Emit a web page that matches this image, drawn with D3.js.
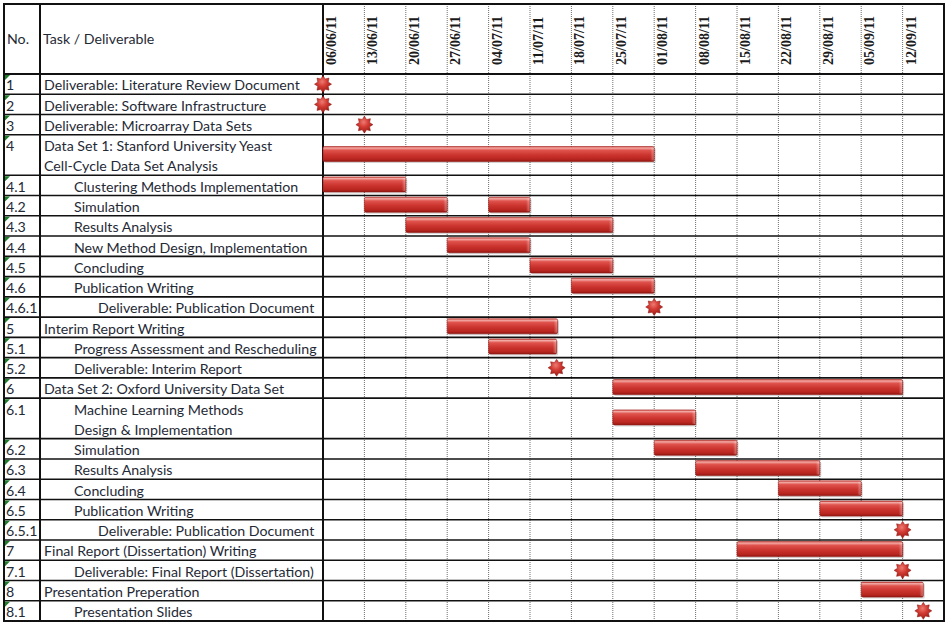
<!DOCTYPE html>
<html><head><meta charset="utf-8">
<script src="https://cdn.jsdelivr.net/npm/d3@7"></script>
<style>body{margin:0;background:#fff;} svg{display:block}</style>
</head><body><svg id="c" width="946" height="626"></svg>
<script>
// ---- data ----
const taskIds = ["1","2","3","4","4.1","4.2","4.3","4.4","4.5","4.6","4.6.1","5","5.1","5.2","6","6.1","6.2","6.3","6.4","6.5","6.5.1","7","7.1","8","8.1"];
const taskNames = [
  ["Deliverable: Literature Review Document"],
  ["Deliverable: Software Infrastructure"],
  ["Deliverable: Microarray Data Sets"],
  ["Data Set 1: Stanford University Yeast","Cell-Cycle Data Set Analysis"],
  ["Clustering Methods Implementation"],
  ["Simulation"],
  ["Results Analysis"],
  ["New Method Design, Implementation"],
  ["Concluding"],
  ["Publication Writing"],
  ["Deliverable: Publication Document"],
  ["Interim Report Writing"],
  ["Progress Assessment and Rescheduling"],
  ["Deliverable: Interim Report"],
  ["Data Set 2: Oxford University Data Set"],
  ["Machine Learning Methods","Design & Implementation"],
  ["Simulation"],
  ["Results Analysis"],
  ["Concluding"],
  ["Publication Writing"],
  ["Deliverable: Publication Document"],
  ["Final Report (Dissertation) Writing"],
  ["Deliverable: Final Report (Dissertation)"],
  ["Presentation Preperation"],
  ["Presentation Slides"]
];
const taskLevels = [0,0,0,0,1,1,1,1,1,1,2,0,1,1,0,1,1,1,1,1,2,0,1,0,1];
const weekLabels = ["06/06/11","13/06/11","20/06/11","27/06/11","04/07/11","11/07/11","18/07/11","25/07/11","01/08/11","08/08/11","15/08/11","22/08/11","29/08/11","05/09/11","12/09/11"];
const barSegments = [
  ["4","2011-06-06","2011-08-01"],
  ["4.1","2011-06-06","2011-06-20"],
  ["4.2","2011-06-13","2011-06-27"],
  ["4.2","2011-07-04","2011-07-11"],
  ["4.3","2011-06-20","2011-07-25"],
  ["4.4","2011-06-27","2011-07-11"],
  ["4.5","2011-07-11","2011-07-25"],
  ["4.6","2011-07-18","2011-08-01"],
  ["5","2011-06-27","2011-07-15 16:00"],
  ["5.1","2011-07-04","2011-07-15 12:00"],
  ["6","2011-07-25","2011-09-12"],
  ["6.1","2011-07-25","2011-08-08"],
  ["6.2","2011-08-01","2011-08-15"],
  ["6.3","2011-08-08","2011-08-29"],
  ["6.4","2011-08-22","2011-09-05"],
  ["6.5","2011-08-29","2011-09-12"],
  ["7","2011-08-15","2011-09-12"],
  ["8","2011-09-05","2011-09-15 12:00"]
];
const milestones = [
  ["1","2011-06-06"],
  ["2","2011-06-06"],
  ["3","2011-06-13"],
  ["4.6.1","2011-08-01"],
  ["5.2","2011-07-15 12:00"],
  ["6.5.1","2011-09-12"],
  ["7.1","2011-09-12"],
  ["8.1","2011-09-15 12:00"]
];

// ---- layout ----
const L = 4, R = 944, T = 4, HB = 74, B = 621;
const colNo = 40, colTask = 323;
const pDay = d3.utcParse("%Y-%m-%d"), pHour = d3.utcParse("%Y-%m-%d %H:%M"), pWeek = d3.utcParse("%d/%m/%y");
const pd = s => pHour(s) || pDay(s);
const weeks = weekLabels.map(pWeek);
const x = d3.scaleUtc().domain([weeks[0], d3.utcDay.offset(weeks[weeks.length-1], 7)]).range([colTask, R]);

const spans = taskNames.map(n => n.length);
const starts = []; let acc = 0; spans.forEach(s => { starts.push(acc); acc += s; });
const y = d3.scaleLinear().domain([0, acc]).range([HB, B]);
const rowIdx = id => taskIds.indexOf(id);

const svg = d3.select("#c");
const defs = svg.append("defs");
const g1 = defs.append("linearGradient").attr("id","bar").attr("x1",0).attr("y1",0).attr("x2",0).attr("y2",1);
[[0,"#d9524c"],[0.1,"#f2aaa5"],[0.25,"#e0534d"],[0.55,"#cc3530"],[0.85,"#b8251f"],[1,"#8f1712"]].forEach(([o,c]) => g1.append("stop").attr("offset",o).attr("stop-color",c));
const g2 = defs.append("linearGradient").attr("id","barEnd").attr("x1",0).attr("y1",0).attr("x2",1).attr("y2",0);
[[0,"#ffffff",0],[1,"#ffffff",0.35]].forEach(([o,c,a]) => g2.append("stop").attr("offset",o).attr("stop-color",c).attr("stop-opacity",a));
const g3 = defs.append("radialGradient").attr("id","star").attr("cx","45%").attr("cy","35%").attr("r","65%");
[[0,"#ee7a72"],[0.45,"#d23b33"],[1,"#9c1a14"]].forEach(([o,c]) => g3.append("stop").attr("offset",o).attr("stop-color",c));

// vertical dotted week lines
svg.append("g").selectAll("line").data(weeks.slice(1)).join("line")
  .attr("x1", d => x(d)).attr("x2", d => x(d)).attr("y1", T).attr("y2", B)
  .attr("stroke","#6f6f6f").attr("stroke-width",1).attr("stroke-dasharray","1,1");

// horizontal row lines
const rowLines = starts.slice(1).map(s => y(s));
svg.append("g").selectAll("line").data(rowLines).join("line")
  .attr("x1", L).attr("x2", R).attr("y1", d => d).attr("y2", d => d)
  .attr("stroke","#111").attr("stroke-width",1.6);

// header bottom & borders
svg.append("line").attr("x1",L).attr("x2",R).attr("y1",HB).attr("y2",HB).attr("stroke","#111").attr("stroke-width",2);
svg.append("rect").attr("x",L).attr("y",T).attr("width",R-L).attr("height",B-T).attr("fill","none").attr("stroke","#111").attr("stroke-width",2);
[colNo, colTask].forEach(cx => svg.append("line").attr("x1",cx).attr("x2",cx).attr("y1",T).attr("y2",B).attr("stroke","#111").attr("stroke-width",2));

// green indicator triangles
svg.append("g").selectAll("path").data(starts).join("path")
  .attr("d", s => `M${L+1},${y(s)+1}L${L+6},${y(s)+1}L${L+1},${y(s)+6}Z`).attr("fill","#1e7d2a");

// header text
const txt = "#1f2a36";
const ff = "Lato, 'Open Sans', sans-serif";
svg.append("text").attr("x",7).attr("y",44).attr("font-family",ff).attr("font-size",14.2).attr("fill",txt).text("No.");
svg.append("text").attr("x",43).attr("y",44).attr("font-family",ff).attr("font-size",14.2).attr("fill",txt).text("Task / Deliverable");

// week labels (rotated)
svg.append("g").selectAll("text").data(weeks).join("text")
  .attr("transform", (d,i) => `translate(${x(d)+13},65) rotate(-90)`)
  .attr("font-family","'Liberation Serif', 'Times New Roman', serif").attr("font-size",14).attr("font-weight","bold")
  .attr("fill","#1a1a1a").text((d,i) => weekLabels[i]);

// task numbers and names
const rows = svg.append("g");
taskIds.forEach((id,i) => {
  const s = starts[i];
  rows.append("text").attr("x",6).attr("y", y(s+0.5)+6.3).attr("font-family",ff).attr("font-size",14.2).attr("fill",txt).text(id);
  taskNames[i].forEach((line,j) => {
    rows.append("text").attr("x", 44 + [0,30,54][taskLevels[i]]).attr("y", y(s+j+0.5)+6.3)
      .attr("font-family",ff).attr("font-size",14.2).attr("fill",txt).text(line);
  });
});

// bars
const bh = 15;
const bars = svg.append("g");
barSegments.forEach(([id,a,b]) => {
  const i = rowIdx(id), cy = y(starts[i] + spans[i]/2) - 1;
  const x0 = x(pd(a)), x1 = x(pd(b));
  bars.append("rect").attr("x",x0+1.5).attr("y",cy-bh/2+1.5).attr("width",x1-x0).attr("height",bh).attr("rx",1.5).attr("fill","#000").attr("opacity",0.16);
  bars.append("rect").attr("x",x0).attr("y",cy-bh/2).attr("width",x1-x0).attr("height",bh).attr("rx",1.5).attr("fill","url(#bar)").attr("stroke","#9a1d18").attr("stroke-width",0.6);
  bars.append("rect").attr("x",x1-4).attr("y",cy-bh/2+1).attr("width",3.5).attr("height",bh-2).attr("fill","url(#barEnd)");
});

// milestones
const star = (cx, cy, ro, ri) => {
  const pts = d3.range(16).map(k => { const a = -Math.PI/2 + k*Math.PI/8, r = k%2 ? ri : ro; return [cx + r*Math.cos(a), cy + r*Math.sin(a)]; });
  return "M" + pts.map(p => p.join(",")).join("L") + "Z";
};
svg.append("g").selectAll("path").data(milestones).join("path")
  .attr("d", ([id,d]) => { const i = rowIdx(id); return star(x(pd(d)), y(starts[i]+spans[i]/2), 8.5, 5.6); })
  .attr("fill","url(#star)").attr("stroke","#8a1510").attr("stroke-width",0.5);
</script></body></html>
